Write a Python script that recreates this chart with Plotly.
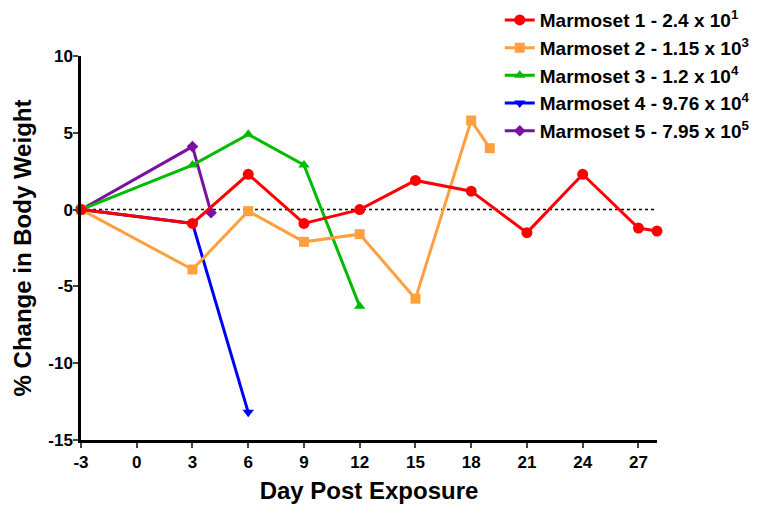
import plotly.graph_objects as go

days1 = [-3, 3, 6, 9, 12, 15, 18, 21, 24, 27, 28]
vals1 = [0, -0.9, 2.3, -0.9, 0, 1.9, 1.2, -1.5, 2.3, -1.2, -1.4]
days2 = [-3, 3, 6, 9, 12, 15, 18, 19]
vals2 = [0, -3.9, -0.1, -2.1, -1.6, -5.8, 5.8, 4.0]
days3 = [-3, 3, 6, 9, 12]
vals3 = [0, 2.9, 4.9, 2.9, -6.3]
days4 = [-3, 3, 6]
vals4 = [0, -0.9, -13.2]
days5 = [-3, 3, 4]
vals5 = [0, 4.1, -0.2]

names = ["Marmoset 1 - 2.4 x 10<sup>1</sup>",
         "Marmoset 2 - 1.15 x 10<sup>3</sup>",
         "Marmoset 3 - 1.2 x 10<sup>4</sup>",
         "Marmoset 4 - 9.76 x 10<sup>4</sup>",
         "Marmoset 5 - 7.95 x 10<sup>5</sup>"]
colors = ["#ff0000", "#ffa040", "#00bb00", "#0000ff", "#7a0fa0"]
symbols = ["circle", "square", "triangle-up", "triangle-down", "diamond"]
sizes = [11, 10, 10, 10, 9]
xs = [days1, days2, days3, days4, days5]
ys = [vals1, vals2, vals3, vals4, vals5]

x_ticks = [-3, 0, 3, 6, 9, 12, 15, 18, 21, 24, 27]
x_ticktext = ["-3", "0", "3", "6", "9", "12", "15", "18", "21", "24", "27"]
y_ticks = [-15, -10, -5, 0, 5, 10]
y_ticktext = ["-15", "-10", "-5", "0", "5", "10"]

fig = go.Figure()
for i in reversed(range(5)):
    fig.add_trace(go.Scatter(
        x=xs[i], y=ys[i], name=names[i], mode="lines+markers",
        line=dict(color=colors[i], width=3),
        marker=dict(symbol=symbols[i], size=sizes[i], color=colors[i]),
        cliponaxis=False,
    ))

fig.add_hline(y=0, line=dict(color="black", width=1.5, dash="dot"), layer="below")

font = "Liberation Sans, Arial, sans-serif"
fig.update_layout(
    width=765, height=499,
    margin=dict(l=73, r=116, t=48, b=67, autoexpand=False),
    paper_bgcolor="white", plot_bgcolor="white",
    font=dict(family=font, color="black"),
    showlegend=True,
    legend=dict(traceorder="reversed", x=0.727, y=1.143, xanchor="left", yanchor="top",
                font=dict(size=19, family=font, color="black", weight="bold"),
                bgcolor="rgba(0,0,0,0)", itemwidth=30, tracegroupgap=0),
    xaxis=dict(range=[-3, 28], tickvals=x_ticks, ticktext=x_ticktext, ticks="outside",
               ticklen=5, tickwidth=2, automargin=False,
               showline=True, linewidth=2.5, linecolor="black", showgrid=False, zeroline=False,
               tickfont=dict(size=17, family=font, weight="bold"),
               title=dict(text="<b>Day Post Exposure</b>", font=dict(size=24, family=font), standoff=12)),
    yaxis=dict(range=[-15, 10], tickvals=y_ticks, ticktext=y_ticktext, ticks="outside",
               ticklen=5, tickwidth=2, automargin=False, ticklabelstandoff=-3,
               showline=True, linewidth=2.5, linecolor="black", showgrid=False, zeroline=False,
               tickfont=dict(size=17, family=font, weight="bold"),
               title=dict(text="<b>% Change in Body Weight</b>", font=dict(size=24, family=font), standoff=10)),
)

fig.write_html("out.html")
